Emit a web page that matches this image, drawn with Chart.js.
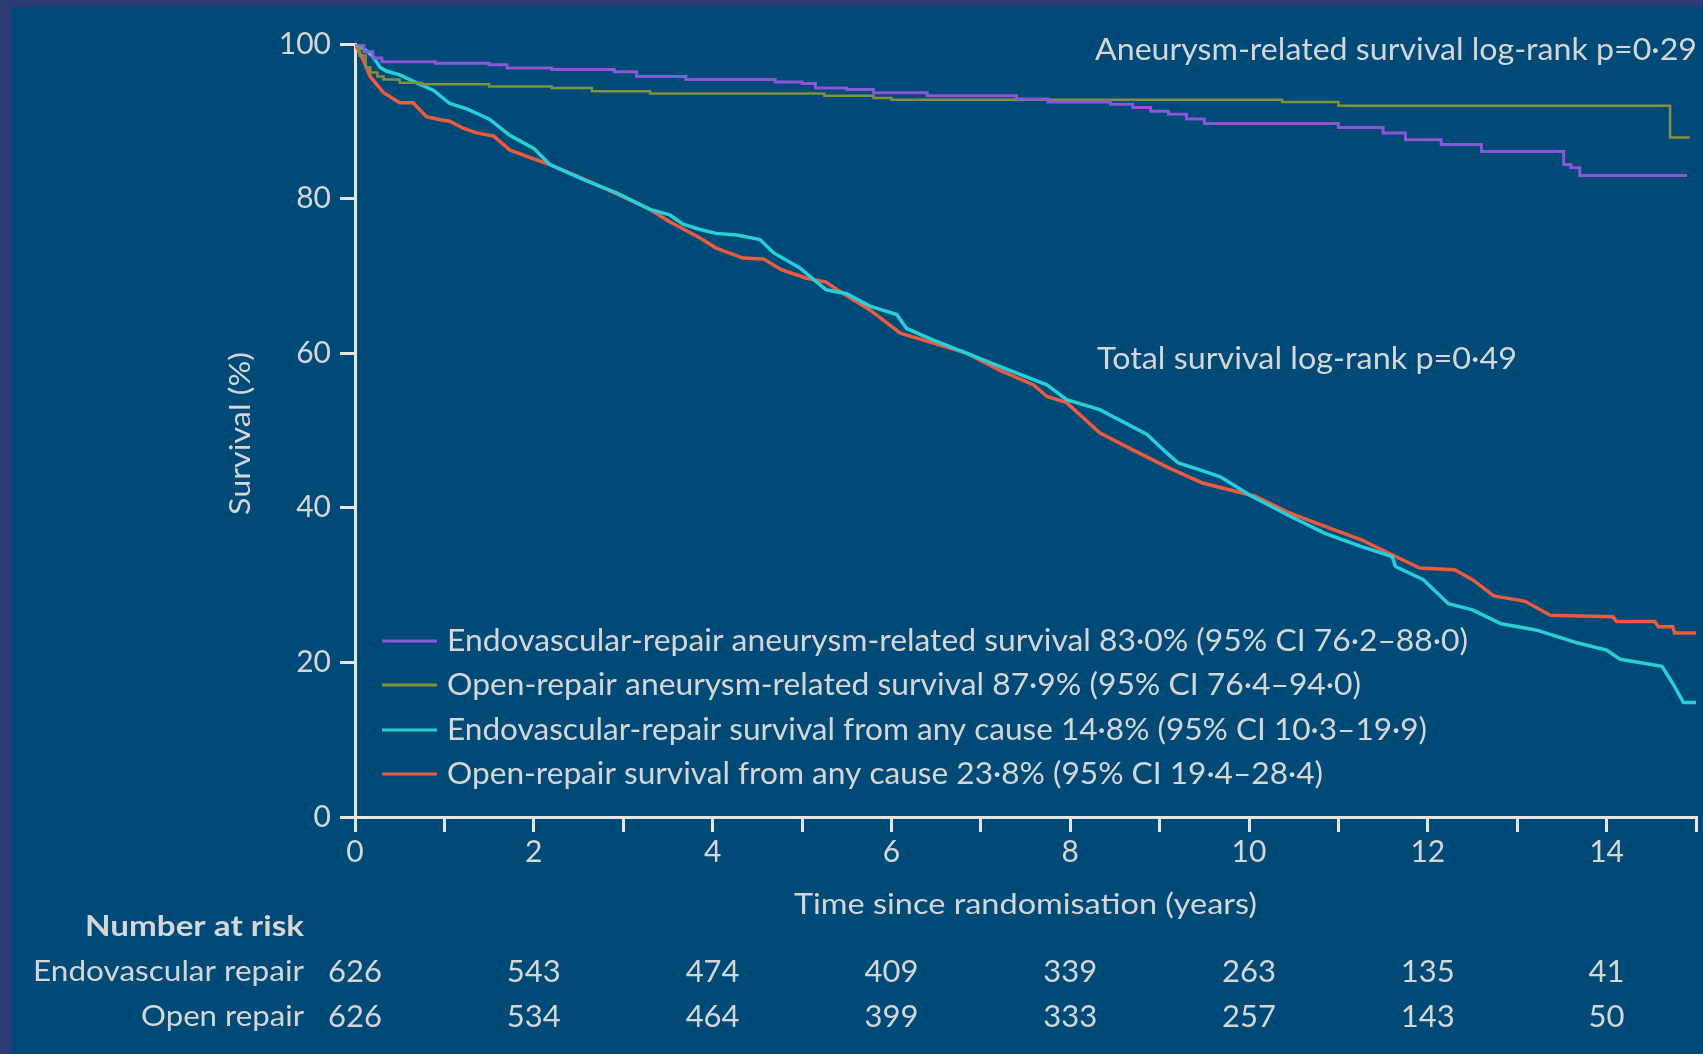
<!DOCTYPE html>
<html>
<head>
<meta charset="utf-8">
<script src="https://cdn.jsdelivr.net/npm/chart.js@4.4.1/dist/chart.umd.min.js"></script>
<style>
  html, body { margin: 0; padding: 0; background: #2c3d76; overflow: hidden; }
  #panel { position: absolute; left: 12px; top: 7px; width: 1691px; height: 1047px; background: #004a78; }
  #wrap { position: absolute; left: 0; top: 0; width: 1703px; height: 1054px; }
</style>
</head>
<body>
<div id="panel"></div>
<div id="wrap"><canvas id="km" width="1703" height="1054"></canvas></div>
<script>
// Kaplan-Meier estimates, time in years since randomisation, survival in %
const endoAneurysmYears = [0, 0.1, 0.2, 0.3, 0.9, 1.5, 1.7, 2.2, 2.9, 3.15, 3.7, 4.7, 5.0, 5.15, 5.5, 5.8, 6.4, 7.4, 7.75, 8.45, 8.7, 8.9, 9.1, 9.3, 9.5, 11.0, 11.5, 11.75, 12.15, 12.6, 13.52, 13.6, 13.7, 14.9];
const endoAneurysmSurv  = [100, 99.0, 98.2, 97.7, 97.5, 97.3, 96.9, 96.7, 96.4, 95.8, 95.4, 95.1, 94.9, 94.3, 94.1, 93.7, 93.3, 92.9, 92.5, 92.2, 91.8, 91.3, 90.9, 90.3, 89.7, 89.2, 88.5, 87.6, 87.0, 86.1, 84.4, 84.0, 83.0, 83.0];

const openAneurysmYears = [0, 0.05, 0.12, 0.17, 0.25, 0.32, 0.5, 0.75, 1.5, 2.2, 2.65, 3.3, 5.25, 5.8, 6.0, 10.37, 11.0, 14.71, 14.93];
const openAneurysmSurv  = [100, 98.5, 97.0, 96.3, 95.8, 95.4, 95.0, 94.8, 94.5, 94.3, 93.9, 93.6, 93.3, 93.0, 92.8, 92.5, 92.0, 87.9, 87.9];

const endoAnyYears = [0, 0.05, 0.13, 0.2, 0.28, 0.35, 0.5, 0.65, 0.88, 1.06, 1.25, 1.5, 1.73, 2.0, 2.18, 2.55, 2.93, 3.3, 3.52, 3.67, 3.86, 4.04, 4.27, 4.53, 4.68, 4.98, 5.27, 5.5, 5.76, 6.06, 6.17, 6.47, 6.84, 7.21, 7.74, 7.96, 8.33, 8.86, 9.08, 9.21, 9.45, 9.68, 10.03, 10.46, 10.85, 11.25, 11.6, 11.64, 11.95, 12.23, 12.5, 12.82, 13.21, 13.68, 14.0, 14.15, 14.62, 14.74, 14.86, 15.0];
const endoAnySurv  = [100, 99.7, 99.1, 98.4, 97.0, 96.5, 96.0, 95.2, 94.0, 92.3, 91.6, 90.3, 88.2, 86.5, 84.4, 82.5, 80.7, 78.6, 77.9, 76.7, 76.0, 75.5, 75.3, 74.7, 73.0, 71.0, 68.2, 67.7, 66.1, 65.0, 63.2, 61.7, 60.0, 58.3, 55.9, 54.0, 52.7, 49.5, 47.1, 45.8, 44.9, 44.0, 41.5, 38.9, 36.7, 35.0, 33.7, 32.4, 30.7, 27.6, 26.8, 25.0, 24.2, 22.5, 21.6, 20.4, 19.5, 17.3, 14.8, 14.8];

const openAnyYears = [0, 0.09, 0.17, 0.32, 0.5, 0.65, 0.8, 0.95, 1.06, 1.21, 1.36, 1.55, 1.73, 1.96, 2.18, 2.55, 2.93, 3.3, 3.52, 3.86, 4.04, 4.34, 4.57, 4.77, 5.05, 5.27, 5.42, 5.76, 6.1, 6.47, 6.84, 7.21, 7.59, 7.74, 7.96, 8.33, 8.7, 9.08, 9.48, 10.07, 10.46, 10.85, 11.25, 11.64, 11.91, 12.3, 12.5, 12.74, 13.09, 13.37, 14.07, 14.11, 14.54, 14.58, 14.74, 14.76, 15.0];
const openAnySurv  = [100, 98.0, 95.8, 93.7, 92.4, 92.4, 90.6, 90.2, 90.0, 89.1, 88.5, 88.1, 86.3, 85.3, 84.4, 82.6, 80.6, 78.6, 77.0, 74.9, 73.6, 72.3, 72.2, 70.8, 69.7, 69.2, 68.0, 65.6, 62.6, 61.3, 60.0, 57.8, 55.9, 54.4, 53.6, 49.7, 47.5, 45.3, 43.2, 41.5, 39.3, 37.6, 35.9, 33.7, 32.2, 32.0, 30.7, 28.6, 27.9, 26.1, 25.9, 25.3, 25.3, 24.6, 24.6, 23.8, 23.8];

const seriesLabels = [
  'Endovascular-repair aneurysm-related survival 83·0% (95% CI 76·2–88·0)',
  'Open-repair aneurysm-related survival 87·9% (95% CI 76·4–94·0)',
  'Endovascular-repair survival from any cause 14·8% (95% CI 10·3–19·9)',
  'Open-repair survival from any cause 23·8% (95% CI 19·4–28·4)'
];
const seriesColors = ['#8c56d8', '#83903e', '#27d0d8', '#f05a3c'];

// Number at risk table
const riskYears = [0, 2, 4, 6, 8, 10, 12, 14];
const riskEndovascular = [626, 543, 474, 409, 339, 263, 135, 41];
const riskOpen = [626, 534, 464, 399, 333, 257, 143, 50];

const aneurysmNote = 'Aneurysm-related survival log-rank p=0·29';
const totalNote = 'Total survival log-rank p=0·49';

const TEXT = '#d6d6d6';
const AXIS = '#e6e6e6';
const FONT = 'Lato, "Liberation Sans", sans-serif';

function pairs(xs, ys) { return xs.map((x, i) => ({ x: x, y: ys[i] })); }

// Writes a string so that it spans the given width (the typeface is set condensed-wide)
function spanText(ctx, s, x, y, w, align) {
  const k = w / ctx.measureText(s).width;
  ctx.save();
  ctx.translate(x, y);
  ctx.scale(k, 1);
  ctx.textAlign = align;
  ctx.fillText(s, 0, 0);
  ctx.restore();
}

// Draws labels, legend and the at-risk table with the chart's own scales
const annotations = {
  id: 'kmAnnotations',
  afterDraw(chart) {
    const ctx = chart.ctx;
    const xs = chart.scales.x;
    const ys = chart.scales.y;
    ctx.save();
    ctx.fillStyle = TEXT;
    ctx.textBaseline = 'middle';

    // log-rank notes
    ctx.font = '31px ' + FONT;
    spanText(ctx, aneurysmNote, 1095, 50, 602, 'left');
    spanText(ctx, totalNote, 1097, 359, 420, 'left');

    // legend
    const rows = [641, 685, 730, 774];
    const widths = [1021, 914, 980, 876];
    ctx.font = '30px ' + FONT;
    seriesLabels.forEach((label, i) => {
      ctx.strokeStyle = seriesColors[i];
      ctx.lineWidth = 3;
      ctx.beginPath();
      ctx.moveTo(382, rows[i]);
      ctx.lineTo(437, rows[i]);
      ctx.stroke();
      ctx.fillStyle = TEXT;
      spanText(ctx, label, 447, rows[i], widths[i], 'left');
    });

    // axis titles
    ctx.font = '29px ' + FONT;
    spanText(ctx, 'Time since randomisation (years)', (xs.left + xs.right) / 2, 905, 463, 'center');
    ctx.save();
    ctx.translate(241, (ys.top + ys.bottom) / 2 + 3);
    ctx.rotate(-Math.PI / 2);
    spanText(ctx, 'Survival (%)', 0, 0, 163, 'center');
    ctx.restore();

    // number at risk
    ctx.font = 'bold 29px ' + FONT;
    spanText(ctx, 'Number at risk', 304, 927, 219, 'right');
    ctx.font = '29px ' + FONT;
    spanText(ctx, 'Endovascular repair', 304, 972, 271, 'right');
    spanText(ctx, 'Open repair', 304, 1017, 163, 'right');
    ctx.textAlign = 'center';
    ctx.font = '31px ' + FONT;
    riskYears.forEach((t, i) => {
      const px = xs.getPixelForValue(t);
      ctx.fillText(String(riskEndovascular[i]), px, 972);
      ctx.fillText(String(riskOpen[i]), px, 1017);
    });
    ctx.restore();
  }
};

const chart = new Chart(document.getElementById('km'), {
  type: 'line',
  data: {
    datasets: [
      { label: seriesLabels[3], data: pairs(openAnyYears, openAnySurv), borderColor: seriesColors[3], borderWidth: 3.5, stepped: false, order: 4 },
      { label: seriesLabels[2], data: pairs(endoAnyYears, endoAnySurv), borderColor: seriesColors[2], borderWidth: 3.5, stepped: false, order: 3 },
      { label: seriesLabels[1], data: pairs(openAneurysmYears, openAneurysmSurv), borderColor: seriesColors[1], borderWidth: 2.5, stepped: true, order: 2 },
      { label: seriesLabels[0], data: pairs(endoAneurysmYears, endoAneurysmSurv), borderColor: seriesColors[0], borderWidth: 3, stepped: true, order: 1 }
    ]
  },
  options: {
    responsive: false,
    animation: false,
    devicePixelRatio: 1,
    layout: { padding: { left: 0, right: 7, top: 44, bottom: 0 } },
    elements: { point: { radius: 0 }, line: { tension: 0, borderJoinStyle: 'miter' } },
    plugins: { legend: { display: false }, tooltip: { enabled: false } },
    scales: {
      x: {
        type: 'linear', min: 0, max: 15,
        afterFit(scale) { scale.height = 1054 - 817; },
        border: { display: true, color: AXIS, width: 3 },
        grid: { drawOnChartArea: false, drawTicks: true, tickLength: 15, color: AXIS, lineWidth: 3 },
        ticks: {
          stepSize: 1, autoSkip: false, maxRotation: 0, padding: 2,
          color: TEXT, font: { family: FONT, size: 30 },
          callback: v => (v % 2 === 0 ? String(v) : '')
        }
      },
      y: {
        type: 'linear', min: 0, max: 100,
        afterFit(scale) { scale.width = 355; },
        border: { display: true, color: AXIS, width: 3 },
        grid: { drawOnChartArea: false, drawTicks: true, tickLength: 15, color: AXIS, lineWidth: 3 },
        ticks: { stepSize: 20, padding: 9, color: TEXT, font: { family: FONT, size: 30 } }
      }
    }
  },
  plugins: [annotations]
});
</script>
</body>
</html>
